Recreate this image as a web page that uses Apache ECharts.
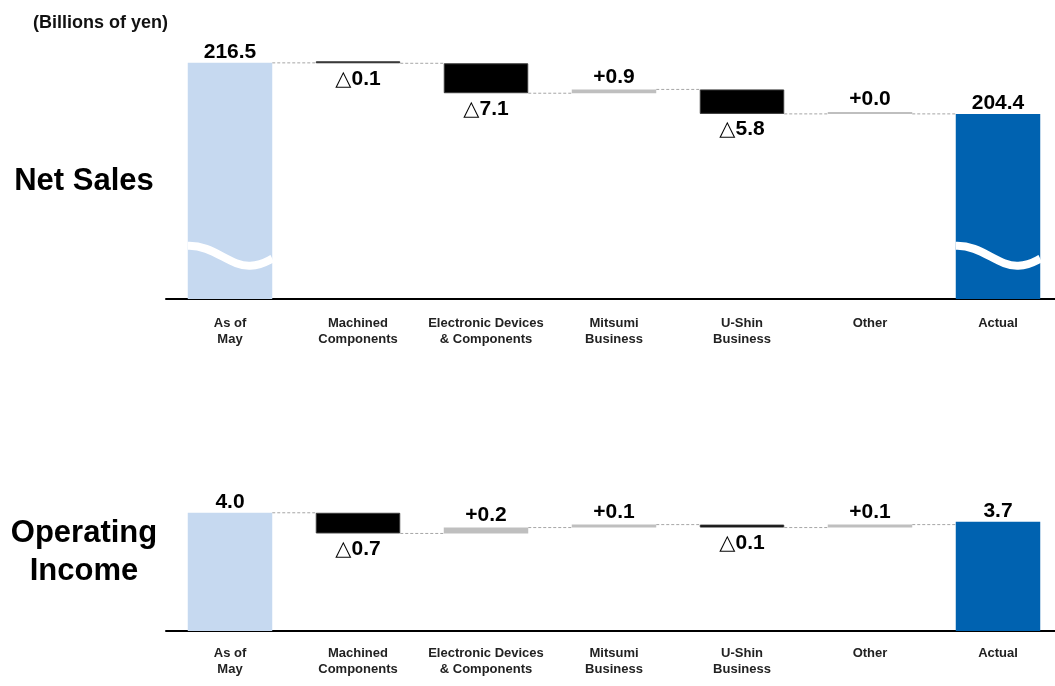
<!DOCTYPE html>
<html>
<head>
<meta charset="utf-8">
<title>Net Sales / Operating Income variance</title>
<script src="https://cdn.jsdelivr.net/npm/echarts@6/dist/echarts.min.js"></script>
<style>
  html, body { margin: 0; padding: 0; background: #ffffff; overflow: hidden; }
  #chart { width: 1062px; height: 686px; }
</style>
</head>
<body>
<div id="chart"></div>
<script>
// Categories along both bridges
const categories = [
  'As of\nMay',
  'Machined\nComponents',
  'Electronic Devices\n& Components',
  'Mitsumi\nBusiness',
  'U-Shin\nBusiness',
  'Other',
  'Actual'
];

// Net sales (billions of yen)
const salesStart = 216.5;
const salesChanges = [-0.1, -7.1, 0.9, -5.8, 0.0];
const salesActual = 204.4;

// Operating income (billions of yen)
const incomeStart = 4.0;
const incomeChanges = [-0.7, 0.2, 0.1, -0.1, 0.1];
const incomeActual = 3.7;

const FONT = "'Liberation Sans', Arial, 'DejaVu Sans', sans-serif";
const START_COLOR = '#c6d9f0';
const ACTUAL_COLOR = '#0062b0';
const UP_COLOR = '#bfbfbf';
const DOWN_COLOR = '#000000';
const BAR_RATIO = 0.66;

function fmtChange(v) {
  return (v < 0 ? '\u25B3' : '+') + Math.abs(v).toFixed(1);
}

// Build the invisible base, the visible bars and the connector levels
function bridge(start, changes, actual) {
  const base = [0];
  const bars = [{
    value: start,
    itemStyle: { color: START_COLOR },
    label: { position: 'top', distance: 0, formatter: start.toFixed(1) }
  }];
  const levels = [[0, start]];
  let level = start;
  changes.forEach((d, i) => {
    const next = level + d;
    base.push(Math.min(level, next));
    bars.push({
      value: Math.abs(d),
      itemStyle: d < 0
        ? { color: DOWN_COLOR, borderColor: '#3a3a3a', borderWidth: 1 }
        : { color: UP_COLOR },
      label: {
        position: d < 0 ? 'bottom' : 'top',
        distance: d < 0 ? 5 : 2,
        formatter: fmtChange(d)
      }
    });
    level = next;
    levels.push([i + 1, level]);
  });
  base.push(0);
  bars.push({
    value: actual,
    itemStyle: { color: ACTUAL_COLOR },
    label: { position: 'top', distance: 0, formatter: actual.toFixed(1) }
  });
  return { base, bars, levels };
}

const sales = bridge(salesStart, salesChanges, salesActual);
const income = bridge(incomeStart, incomeChanges, incomeActual);

// Dotted connectors running between neighbouring bars
function renderConnector(params, api) {
  const p = api.coord([api.value(0), api.value(1)]);
  const band = api.size([1, 0])[0];
  const half = band * BAR_RATIO / 2;
  return {
    type: 'line',
    shape: { x1: p[0] + half, y1: p[1], x2: p[0] + band - half, y2: p[1] },
    style: { stroke: '#a6a6a6', lineWidth: 1, lineDash: [3, 2] }
  };
}

// White wavy axis-break stroke across the total bars
const BREAK_LEVEL = 171;
function renderBreak(params, api) {
  const p = api.coord([api.value(0), api.value(1)]);
  const w = api.size([1, 0])[0] * BAR_RATIO;
  const x0 = p[0] - w / 2;
  const y = p[1];
  return {
    type: 'path',
    shape: {
      pathData:
        'M' + x0 + ' ' + (y - 9) +
        ' C' + (x0 + w * 0.3) + ' ' + (y - 10) + ' ' +
        (x0 + w * 0.5) + ' ' + (y + 12) + ' ' +
        (x0 + w * 0.74) + ' ' + (y + 11) +
        ' C' + (x0 + w * 0.88) + ' ' + (y + 10.5) + ' ' +
        (x0 + w * 0.95) + ' ' + (y + 6) + ' ' +
        (x0 + w) + ' ' + (y + 4)
    },
    style: { stroke: '#ffffff', lineWidth: 8, fill: null, lineCap: 'butt' }
  };
}

function xAxis(gridIndex, margin) {
  return {
    type: 'category',
    gridIndex,
    data: categories,
    axisLine: { lineStyle: { color: '#000000', width: 2 } },
    axisTick: { show: false },
    axisLabel: {
      interval: 0,
      margin,
      fontFamily: FONT,
      fontSize: 13,
      fontWeight: 'bold',
      color: '#222222',
      lineHeight: 16
    }
  };
}

function barSeries(gridIndex, stack, data, isBase) {
  return {
    type: 'bar',
    xAxisIndex: gridIndex,
    yAxisIndex: gridIndex,
    stack,
    barWidth: (BAR_RATIO * 100) + '%',
    barMinHeight: isBase ? 0 : 2,
    silent: true,
    animation: false,
    data,
    itemStyle: isBase ? { color: 'transparent' } : undefined,
    label: isBase ? { show: false } : {
      show: true,
      fontFamily: FONT,
      fontSize: 21,
      fontWeight: 'bold',
      color: '#000000'
    }
  };
}

const chart = echarts.init(document.getElementById('chart'), null, { renderer: 'canvas' });

chart.setOption({
  backgroundColor: '#ffffff',
  animation: false,
  grid: [
    { left: 166, top: 46, right: 0, height: 253 },
    { left: 166, top: 498, right: 0, height: 133 }
  ],
  xAxis: [xAxis(0, 16), xAxis(1, 14)],
  yAxis: [
    { type: 'value', gridIndex: 0, min: 160.5, max: 220.5, show: false },
    { type: 'value', gridIndex: 1, min: 0, max: 4.5, show: false }
  ],
  graphic: [
    {
      type: 'text', x: 33, y: 14,
      style: {
        text: '(Billions of yen)', fontFamily: FONT, fontSize: 18, fontWeight: 'bold',
        fill: '#111111', align: 'left', verticalAlign: 'top'
      }
    },
    {
      type: 'text', x: 84, y: 166,
      style: {
        text: 'Net Sales', fontFamily: FONT, fontSize: 31, fontWeight: 'bold',
        fill: '#000000', align: 'center', verticalAlign: 'top'
      }
    },
    {
      type: 'text', x: 84, y: 518,
      style: {
        text: 'Operating', fontFamily: FONT, fontSize: 31, fontWeight: 'bold',
        fill: '#000000', align: 'center', verticalAlign: 'top'
      }
    },
    {
      type: 'text', x: 84, y: 556,
      style: {
        text: 'Income', fontFamily: FONT, fontSize: 31, fontWeight: 'bold',
        fill: '#000000', align: 'center', verticalAlign: 'top'
      }
    }
  ],
  series: [
    {
      type: 'custom',
      xAxisIndex: 0, yAxisIndex: 0,
      renderItem: renderConnector,
      data: sales.levels,
      encode: { x: 0, y: 1 },
      silent: true, z: 1
    },
    barSeries(0, 'sales', sales.base, true),
    barSeries(0, 'sales', sales.bars, false),
    {
      type: 'custom',
      xAxisIndex: 0, yAxisIndex: 0,
      renderItem: renderBreak,
      data: [[0, BREAK_LEVEL], [categories.length - 1, BREAK_LEVEL]],
      encode: { x: 0, y: 1 },
      silent: true, z: 5
    },
    {
      type: 'custom',
      xAxisIndex: 1, yAxisIndex: 1,
      renderItem: renderConnector,
      data: income.levels,
      encode: { x: 0, y: 1 },
      silent: true, z: 1
    },
    barSeries(1, 'income', income.base, true),
    barSeries(1, 'income', income.bars, false)
  ]
});
</script>
</body>
</html>
